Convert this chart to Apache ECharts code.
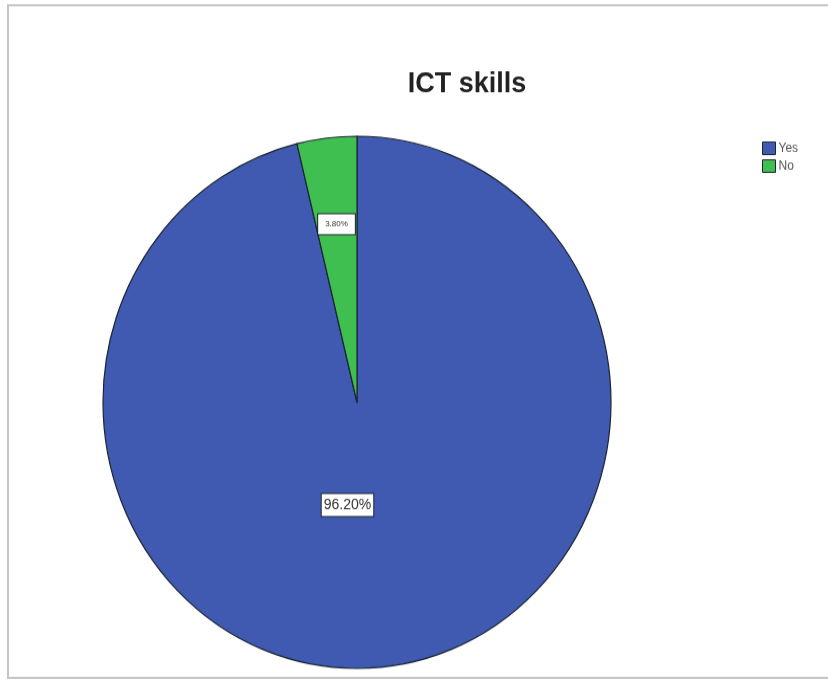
<!DOCTYPE html>
<html>
<head>
<meta charset="utf-8">
<script src="https://cdn.jsdelivr.net/npm/echarts@6/dist/echarts.min.js"></script>
<style>
  html, body { margin: 0; padding: 0; background: #ffffff; width: 828px; height: 681px; }
  #wrap { width: 828px; height: 681px; position: relative; }
  /* the chart is laid out slightly shorter and stretched to full height */
  #chart { position: absolute; left: 0; top: 0; width: 828px; height: 650px; transform: scaleY(1.0477); transform-origin: 0 0; }
</style>
</head>
<body>
<div id="wrap"><div id="chart"></div></div>
<script>
// ICT skills: share of respondents (percent)
const categories = ['Yes', 'No'];
const percentages = [96.2, 3.8];
const sliceColors = ['#3f5ab0', '#3fbf4f'];

// Per-slice nudges applied to the inside label position
const labelShift = [[-25, -31], [-5, -41]];
const labelFontSize = [14, 8];

const chart = echarts.init(document.getElementById('chart'), null, { renderer: 'canvas' });

const seriesData = categories.map((name, i) => ({
  name: name,
  value: percentages[i],
  itemStyle: { color: sliceColors[i] },
  label: { fontSize: labelFontSize[i], padding: i === 0 ? [4, 2, 3, 2] : [6, 7, 5, 7] }
}));

chart.setOption({
  backgroundColor: '#ffffff',
  animation: false,
  graphic: [{
    type: 'rect',
    shape: { x: 8, y: 5, width: 830, height: 642 },
    style: { fill: 'none', stroke: '#c4c4c4', lineWidth: 2 },
    silent: true
  }],
  title: {
    text: 'ICT skills',
    left: 462,
    top: 62,
    textAlign: 'center',
    textStyle: {
      fontFamily: 'Liberation Sans, Arial, sans-serif',
      fontSize: 27,
      fontWeight: 'bold',
      color: '#222222'
    }
  },
  legend: {
    orient: 'vertical',
    left: 757,
    top: 130,
    itemWidth: 13,
    itemHeight: 12,
    itemGap: 4,
    icon: 'rect',
    data: categories,
    itemStyle: { borderColor: '#1c2533', borderWidth: 1 },
    textStyle: {
      fontFamily: 'Liberation Sans, Arial, sans-serif',
      fontSize: 12,
      color: '#555555',
      padding: [0, 0, 0, -2]
    }
  },
  series: [{
    type: 'pie',
    center: [357, 384],
    radius: 254,
    startAngle: 90,
    clockwise: true,
    avoidLabelOverlap: false,
    itemStyle: { borderColor: '#1c2533', borderWidth: 1.2 },
    label: {
      show: true,
      position: 'inside',
      formatter: p => p.value.toFixed(2) + '%',
      fontFamily: 'Liberation Sans, Arial, sans-serif',
      color: '#333333',
      backgroundColor: '#ffffff',
      borderColor: '#1c2533',
      borderWidth: 1
    },
    labelLayout: params => ({
      dx: labelShift[params.dataIndex][0],
      dy: labelShift[params.dataIndex][1]
    }),
    labelLine: { show: false },
    emphasis: { disabled: true },
    data: seriesData
  }]
});
</script>
</body>
</html>
